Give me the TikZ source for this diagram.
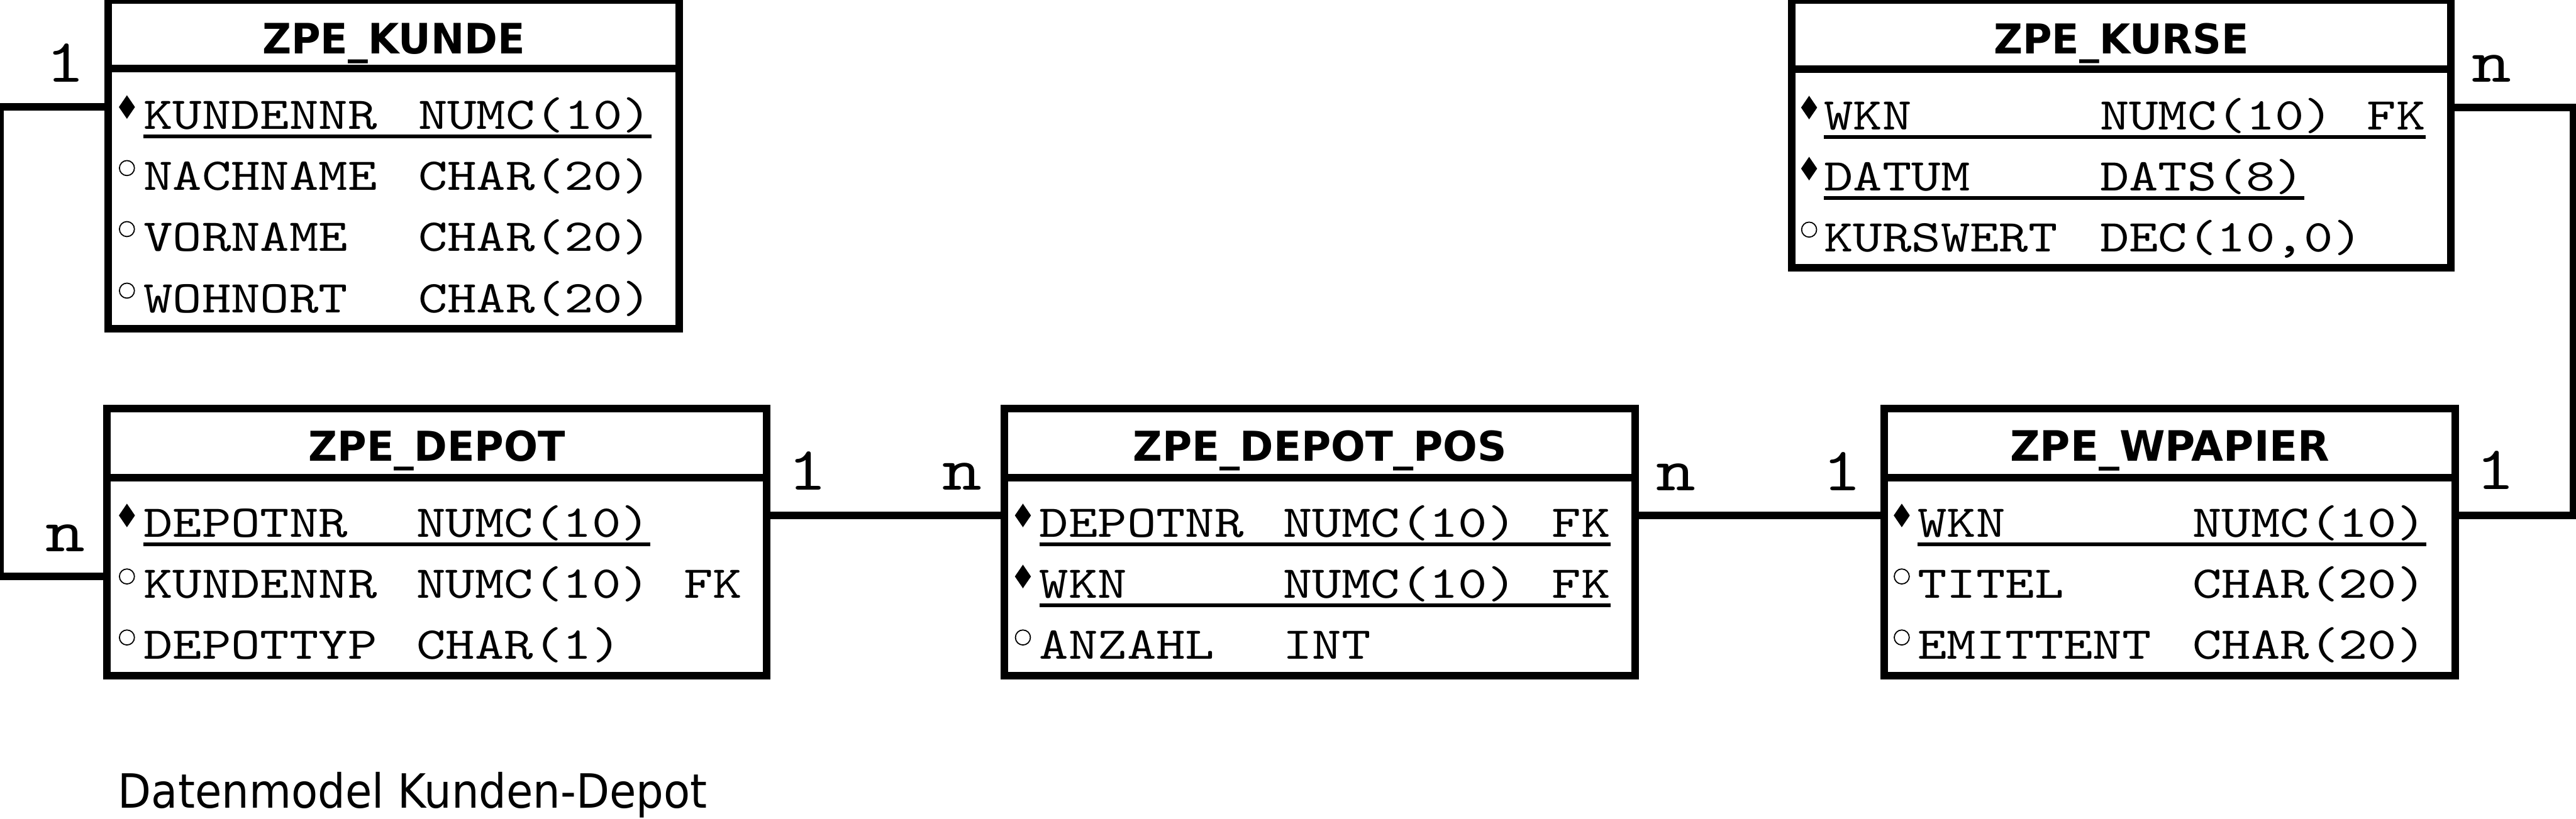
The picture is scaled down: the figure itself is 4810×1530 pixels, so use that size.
\documentclass[tikz,border=0pt]{standalone}
\usepackage{fontspec}
\usepackage{graphicx}
\newfontfamily\erdmono{lmmono10-regular.otf}[FakeStretch=1.22]
\newfontfamily\erdsans{DejaVu Sans}
\tikzset{
  tbl/.style={draw, line width=4pt, inner sep=0pt, outer sep=0pt},
  hsep/.style={line width=4pt},
  conn/.style={line width=4pt},
  uline/.style={line width=2pt},
  attr/.style={anchor=base west, inner sep=0pt, outer sep=0pt, font={\erdmono\fontsize{24.2pt}{30pt}\selectfont}},
  card/.style={anchor=base, inner sep=0pt, outer sep=0pt, font={\erdmono\fontsize{32.7pt}{36pt}\selectfont}},
  ttl/.style={anchor=base, inner sep=0pt, outer sep=0pt, font={\erdsans\bfseries\fontsize{22.2pt}{26pt}\selectfont}},
  pkm/.style={fill=black},
  optm/.style={draw, line width=0.6pt},
}
% #1 id, #2 baseline y, #3 name x, #4 name, #5 type x, #6 type
\newcommand\erdrow[6]{%
  \node[attr] (#1n) at (#3,#2) {#4};
  \node[attr] (#1t) at (#5,#2) {#6};}
\newcommand\erdfk[3]{\node[attr] (#1f) at (#2,#3) {FK};}
\newcommand\pkmark[2]{\fill[pkm] (#1,#2) ++(0,-22) -- ++(15,22) -- ++(-15,22) -- ++(-15,-22) -- cycle;}
\newcommand\optmark[2]{\draw[optm] (#1,#2) circle[radius=0.14cm];}
\newcommand\uln[2]{\draw[uline] ([yshift=-0.14cm]#1.base west) -- ([yshift=-0.14cm]#2.base east);}
\begin{document}
\begin{tikzpicture}[x=0.01cm, y={(0,-0.01cm)}]
\useasboundingbox (0,0) rectangle (4810,1530);

% ---------- tables ----------
\node[tbl, minimum width=10.66cm, minimum height=6.14cm] (kunde) at (735,307) {};
\node[tbl, minimum width=12.31cm, minimum height=4.99cm] (depot) at (815.5,1012.5) {};
\node[tbl, minimum width=11.77cm, minimum height=4.99cm] (dpos) at (2464.5,1012.5) {};
\node[tbl, minimum width=10.65cm, minimum height=4.99cm] (wp) at (4051.5,1012.5) {};
\node[tbl, minimum width=12.30cm, minimum height=5.00cm] (kurse) at (3961,250) {};

\draw[hsep] ([yshift=-1.28cm]kunde.north west) -- ([yshift=-1.28cm]kunde.north east);
\draw[hsep] ([yshift=-1.29cm]depot.north west) -- ([yshift=-1.29cm]depot.north east);
\draw[hsep] ([yshift=-1.29cm]dpos.north west) -- ([yshift=-1.29cm]dpos.north east);
\draw[hsep] ([yshift=-1.29cm]wp.north west) -- ([yshift=-1.29cm]wp.north east);
\draw[hsep] ([yshift=-1.29cm]kurse.north west) -- ([yshift=-1.29cm]kurse.north east);

\node[ttl] (kundeT) at ([yshift=-1.00cm]kunde.north) {\resizebox{4.90cm}{0.57cm}{ZPE\_KUNDE}};
\node[ttl] (depotT) at ([yshift=-0.99cm]depot.north) {\resizebox{4.79cm}{0.57cm}{ZPE\_DEPOT}};
\node[ttl] (dposT) at ([yshift=-0.99cm]dpos.north) {\resizebox{6.97cm}{0.57cm}{ZPE\_DEPOT\_POS}};
\node[ttl] (wpT) at ([yshift=-0.99cm]wp.north) {\resizebox{5.96cm}{0.57cm}{ZPE\_WPAPIER}};
\node[ttl] (kurseT) at ([yshift=-1.01cm]kurse.north) {\resizebox{4.76cm}{0.57cm}{ZPE\_KURSE}};

% ---------- ZPE_KUNDE ----------
\erdrow{k1}{241}{268}{KUNDENNR}{781}{NUMC(10)}
\erdrow{k2}{355}{268}{NACHNAME}{781}{CHAR(20)}
\erdrow{k3}{469}{268}{VORNAME}{781}{CHAR(20)}
\erdrow{k4}{584}{268}{WOHNORT}{781}{CHAR(20)}
\uln{k1n}{k1t}
\pkmark{237}{200}
\optmark{237}{314}
\optmark{237}{428}
\optmark{237}{543}

% ---------- ZPE_DEPOT ----------
\erdrow{d1}{1003}{268}{DEPOTNR}{778}{NUMC(10)}
\erdrow{d2}{1117}{268}{KUNDENNR}{778}{NUMC(10)}
\erdfk{d2}{1277}{1117}
\erdrow{d3}{1231}{268}{DEPOTTYP}{778}{CHAR(1)}
\uln{d1n}{d1t}
\pkmark{237}{963}
\optmark{237}{1077}
\optmark{237}{1191}

% ---------- ZPE_DEPOT_POS ----------
\erdrow{p1}{1003}{1941}{DEPOTNR}{2396}{NUMC(10)}
\erdfk{p1}{2898}{1003}
\erdrow{p2}{1117}{1941}{WKN}{2396}{NUMC(10)}
\erdfk{p2}{2898}{1117}
\erdrow{p3}{1231}{1941}{ANZAHL}{2396}{INT}
\uln{p1n}{p1f}
\uln{p2n}{p2f}
\pkmark{1910}{963}
\pkmark{1910}{1077}
\optmark{1910}{1191}

% ---------- ZPE_WPAPIER ----------
\erdrow{w1}{1003}{3581}{WKN}{4094}{NUMC(10)}
\erdrow{w2}{1117}{3581}{TITEL}{4094}{CHAR(20)}
\erdrow{w3}{1231}{3581}{EMITTENT}{4094}{CHAR(20)}
\uln{w1n}{w1t}
\pkmark{3551}{963}
\optmark{3551}{1077}
\optmark{3551}{1191}

% ---------- ZPE_KURSE ----------
\erdrow{r1}{242}{3406}{WKN}{3921}{NUMC(10)}
\erdfk{r1}{4420}{242}
\erdrow{r2}{356}{3406}{DATUM}{3921}{DATS(8)}
\erdrow{r3}{470}{3406}{KURSWERT}{3921}{DEC(10,0)}
\uln{r1n}{r1f}
\uln{r2n}{r2t}
\pkmark{3378}{201}
\pkmark{3378}{315}
\optmark{3378}{429}

% ---------- connectors ----------
\coordinate (cK) at (0,200);
\coordinate (cD) at (0,1077);
\coordinate (cM) at (0,963);
\coordinate (cR1) at (4805,201);
\coordinate (cR2) at (4805,963);
\draw[conn] (kunde.west |- cK) -- (cK) -- (cD) -- (depot.west |- cD);
\draw[conn] (depot.east |- cM) -- (dpos.west |- cM);
\draw[conn] (dpos.east |- cM) -- (wp.west |- cM);
\draw[conn] (kurse.east |- cR1) -- (cR1) -- (cR2) -- (wp.east |- cR2);

% ---------- cardinalities ----------
\node[card] (m1) at (122,153) {1};
\node[card] (m2) at (122,1031) {n};
\node[card] (m3) at (1508,915) {1};
\node[card] (m4) at (1797,915) {n};
\node[card] (m5) at (3129,917) {n};
\node[card] (m6) at (3439,917) {1};
\node[card] (m7) at (4660,914) {1};
\node[card] (m8) at (4652,153) {n};

% ---------- caption ----------
\node[anchor=base west, inner sep=0pt] (caption) at (220,1509)
  {\resizebox{10.99cm}{0.67cm}{\erdsans\fontsize{25pt}{30pt}\selectfont Datenmodel Kunden-Depot}};
\end{tikzpicture}
\end{document}
